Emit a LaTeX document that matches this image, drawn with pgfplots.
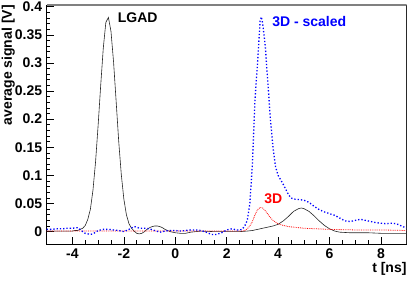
\documentclass[border=0pt]{standalone}
\usepackage{fontspec}
\setmainfont{Liberation Sans}
\usepackage{pgfplots}
\pgfplotsset{compat=1.18}
\usepackage{pgfplotstable}

\pgfplotstableread{
x y
-5.0 0.001
-4.5 0.001
-4.0 0.001
-3.9 0.002
-3.8 0.002
-3.7 0.004
-3.6 0.006
-3.5 0.011
-3.4 0.022
-3.3 0.040
-3.2 0.074
-3.1 0.124
-3.0 0.189
-2.9 0.260
-2.8 0.326
-2.7 0.372
-2.6 0.381
-2.5 0.356
-2.4 0.302
-2.3 0.232
-2.2 0.161
-2.1 0.102
-2.0 0.058
-1.9 0.030
-1.8 0.014
-1.7 0.006
-1.6 0.001
-1.5 -0.003
-1.4 -0.004
-1.3 -0.003
-1.2 0.000
-1.1 0.004
-1.0 0.007
-0.9 0.009
-0.8 0.010
-0.7 0.010
-0.6 0.009
-0.5 0.007
-0.4 0.004
-0.3 0.002
-0.2 0.000
-0.1 -0.001
0.0 -0.002
0.2 -0.003
0.4 -0.003
0.6 -0.001
0.8 0.000
1.0 0.001
1.5 0.000
2.0 0.000
2.5 0.000
2.8 0.001
3.0 0.002
3.2 0.004
3.4 0.006
3.6 0.008
3.8 0.010
4.0 0.013
4.2 0.019
4.4 0.027
4.6 0.036
4.8 0.041
4.9 0.042
5.0 0.041
5.2 0.036
5.4 0.028
5.6 0.019
5.8 0.011
6.0 0.005
6.2 0.001
6.4 -0.001
6.8 -0.002
7.5 -0.002
8.0 -0.003
9.0 -0.003
}\lgad

\pgfplotstableread{
x y
-5.0 0.004
-4.8 0.004
-4.6 0.005
-4.4 0.005
-4.2 0.006
-4.0 0.006
-3.8 0.007
-3.7 0.004
-3.6 0.000
-3.5 -0.003
-3.4 -0.004
-3.3 -0.005
-3.2 -0.004
-3.1 -0.001
-3.0 0.002
-2.8 0.004
-2.6 0.004
-2.4 0.003
-2.2 0.002
-2.0 0.000
-1.8 0.004
-1.6 0.009
-1.5 0.008
-1.4 0.006
-1.2 0.006
-1.0 0.005
-0.8 0.002
-0.6 -0.001
-0.4 0.001
-0.2 0.002
0.0 0.002
0.2 0.001
0.4 0.002
0.6 0.003
0.8 0.003
1.0 0.002
1.2 -0.001
1.4 -0.005
1.6 -0.005
1.8 -0.002
2.0 0.003
2.2 0.005
2.4 0.003
2.5 0.003
2.6 0.004
2.7 0.010
2.8 0.020
2.9 0.050
3.0 0.120
3.1 0.235
3.2 0.300
3.3 0.375
3.35 0.382
3.4 0.370
3.5 0.330
3.6 0.265
3.7 0.200
3.8 0.150
3.9 0.115
4.0 0.100
4.1 0.092
4.2 0.084
4.3 0.075
4.4 0.066
4.5 0.060
4.6 0.058
4.8 0.057
5.0 0.056
5.2 0.052
5.4 0.045
5.6 0.039
5.8 0.035
6.0 0.032
6.2 0.029
6.4 0.024
6.6 0.019
6.8 0.018
7.0 0.020
7.2 0.022
7.4 0.020
7.6 0.018
7.8 0.016
8.0 0.015
8.2 0.014
8.4 0.015
8.6 0.014
8.8 0.010
9.0 0.006
}\scaled

\pgfplotstableread{
x y
-5.0 0.001
-4.0 0.001
-3.0 0.001
-2.0 0.001
-1.0 0.001
0.0 0.001
1.0 0.001
2.0 0.001
2.6 0.001
2.7 0.002
2.8 0.005
2.9 0.010
3.0 0.018
3.1 0.030
3.2 0.039
3.3 0.043
3.4 0.042
3.5 0.037
3.6 0.031
3.7 0.025
3.8 0.020
3.9 0.017
4.0 0.014
4.2 0.011
4.4 0.009
4.6 0.008
5.0 0.006
5.5 0.005
6.0 0.004
7.0 0.003
8.0 0.003
9.0 0.002
}\threed

\begin{document}
\begin{tikzpicture}
\path[use as bounding box] (0,0) rectangle (415pt,281pt);
\begin{axis}[
  at={(46.7pt,37pt)}, anchor=south west,
  scale only axis, width=360pt, height=239pt,
  xmin=-5, xmax=9, ymin=-0.022, ymax=0.403,
  tick pos=left, tick align=inside,
  xtick={-4,-2,0,2,4,6,8},
  xticklabels={-4,-2,0,2,4,6,8},
  ytick={0,0.05,0.1,0.15,0.2,0.25,0.3,0.35,0.4},
  yticklabels={0,0.05,0.1,0.15,0.2,0.25,0.3,0.35,0.4},
  minor x tick num=3, minor y tick num=4,
  major tick length=7pt, minor tick length=3.5pt,
  tick style={black, line width=0.6pt},
  axis line style={line width=0.8pt},
  ticklabel style={font=\bfseries\fontsize{14}{16}\selectfont},
  xticklabel style={yshift=-1pt},
  yticklabel style={xshift=-1pt},
  xlabel={t [ns]}, ylabel={average signal [V]},
  xlabel style={font=\bfseries\fontsize{14}{16}\selectfont, at={(axis description cs:1,0)}, anchor=north east, yshift=-18pt, inner sep=0pt},
  ylabel style={font=\bfseries\fontsize{14}{16}\selectfont, at={(axis description cs:-0.088,1)}, anchor=south east, inner sep=0pt},
  clip=true,
]
\addplot[black!85, line width=0.6pt, no marks] table {\lgad};
\addplot[red, line width=0.8pt, densely dotted, no marks] table {\threed};
\addplot[blue, line width=1.3pt, dotted, no marks] table {\scaled};
\node[font=\bfseries\fontsize{14}{16}\selectfont, text=black] at (axis cs:-1.46,0.38) {LGAD};
\node[font=\bfseries\fontsize{14}{16}\selectfont, text=blue] at (axis cs:5.21,0.373) {3D - scaled};
\node[font=\bfseries\fontsize{14}{16}\selectfont, text=red] at (axis cs:3.81,0.058) {3D};
\draw[black!50, line width=1.6pt] (rel axis cs:0,1) -- (rel axis cs:1,1);
\draw[black!75, line width=0.8pt] (rel axis cs:1,0) -- (rel axis cs:1,1);
\end{axis}
\end{tikzpicture}
\end{document}
